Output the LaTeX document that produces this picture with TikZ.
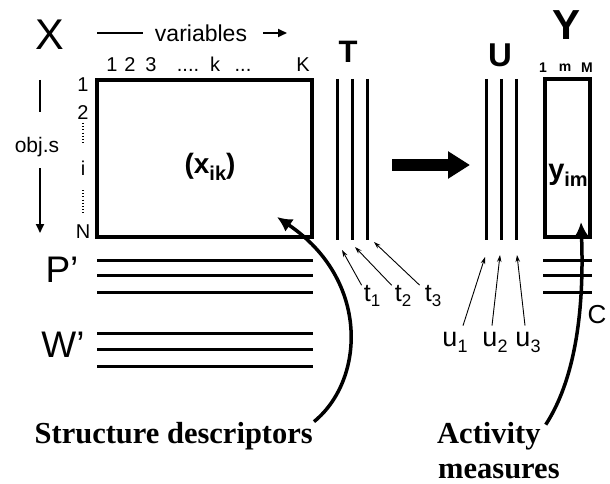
\documentclass[tikz,border=0pt]{standalone}
\usepackage{fontspec}
\setmainfont{Liberation Serif}
\setsansfont{Liberation Sans}
\usetikzlibrary{arrows.meta}
\newcommand{\fsz}[1]{\fontsize{#1}{#1}\selectfont}
\newcommand{\lsub}[3]{\raisebox{-#2}{\fsz{#1}#3}}
\begin{document}
\begin{tikzpicture}[x=1pt,y=-1pt,
  lbl/.style={inner sep=0pt, font=\sffamily\fsz{#1}},
  blbl/.style={inner sep=0pt, font=\sffamily\bfseries\fsz{#1}},
  serifl/.style={inner sep=0pt, font=\rmfamily\bfseries\fsz{30.5}},
  matbox/.style={draw, line width=3.5pt, inner sep=0pt},
  mline/.style={line width=3pt},
  dotline/.style={line width=1.4pt, dash pattern=on 1pt off 2.2pt},
  tarr/.style={line width=0.9pt, -{Stealth[length=7pt,width=4.5pt]}},
  carr/.style={line width=3.5pt, -{Latex[length=15pt,width=15pt]}},
  garr/.style={line width=1.8pt, -{Triangle[length=9pt,width=8pt]}}]
\useasboundingbox (0,0) rectangle (610,484);
% matrix boxes
\node[matbox, minimum width=215pt, minimum height=157pt] (xbox) at (204.5,158.5) {};
\node[matbox, minimum width=45pt, minimum height=158pt] (ybox) at (567.5,158) {};
% titles
\node[lbl=43] (X) at (50,35) {X};
\node[blbl=42] (Y) at (566,25) {Y};
\node[blbl=31] (T) at (348,52) {T};
\node[blbl=33] (U) at (500,55) {U};
% variables header
\node[lbl=23] (vars) at (201,33) {variables};
\coordinate (v0) at (97,33);
\coordinate (v1) at (263,33);
\coordinate (v2) at (287,33);
\draw[line width=1.8pt] (v0) -- (vars.west -| 143,0);
\draw[garr] (v1) -- (v2);
% column indices
\node[lbl=20, anchor=base] (c1) at (112,72) {1};
\node[lbl=20, anchor=base] (c2) at (130,72) {2};
\node[lbl=20, anchor=base] (c3) at (151,72) {3};
\node[lbl=20, anchor=base] (cd1) at (188,72) {....};
\node[lbl=20, anchor=base] (ck) at (215,72) {k};
\node[lbl=20, anchor=base] (cd2) at (243,72) {...};
\node[lbl=20, anchor=base] (cK) at (303,72) {K};
% row indices
\node[lbl=20] (r1) at (83,85) {1};
\node[lbl=20] (r2) at (83,113) {2};
\node[lbl=20] (ri) at (83,168) {i};
\node[lbl=20] (rN) at (83,232) {N};
\draw[dotline] (83,123) -- (83,143);
\draw[dotline] (83,190) -- (83,214);
% objects arrow
\node[lbl=21] (objs) at (37,147) {obj.s};
\coordinate (o0) at (40,80);
\coordinate (o1) at (40,112);
\coordinate (o2) at (40,168);
\coordinate (o3) at (40,233);
\draw[line width=1.8pt] (o0) -- (o1);
\draw[garr] (o2) -- (o3);
% matrix content
\node[blbl=28] (xik) at (210,167) {(x\lsub{20}{7pt}{ik})};
\node[blbl=29] (yim) at (568,175) {y\lsub{20}{7pt}{im}};
\node[blbl=14] (y1) at (543,68) {1};
\node[blbl=14] (ym) at (565,68) {m};
\node[blbl=14] (yM) at (587,68) {M};
% P' and W'
\node[lbl=37] (P) at (62,270) {P’};
\node[lbl=37] (W) at (63,345) {W’};
\foreach \yy in {260,275,292} \draw[mline] (97,\yy) -- (313,\yy);
\foreach \yy in {333,349,366} \draw[mline] (97,\yy) -- (313,\yy);
% C
\node[lbl=26] (C) at (597,315) {C};
\foreach \yy in {260,275,292} \draw[mline] (543,\yy) -- (592,\yy);
% T and U columns
\foreach \xx in {337,352,367} \draw[mline] (\xx,79) -- (\xx,240);
\foreach \xx in {486,501,516} \draw[mline] (\xx,79) -- (\xx,240);
\coordinate (tt1) at (342,250);
\coordinate (tt2) at (355,247);
\coordinate (tt3) at (374,242);
\coordinate (ut1) at (485,257);
\coordinate (ut2) at (500,255);
\coordinate (ut3) at (517,255);
% t labels
\node[lbl=25] (t1) at (372,296) {t\lsub{17}{5pt}{1}};
\node[lbl=25] (t2) at (403,296) {t\lsub{17}{5pt}{2}};
\node[lbl=25] (t3) at (433,296) {t\lsub{17}{5pt}{3}};
\draw[tarr] ([xshift=-2pt]t1.north west) -- (tt1);
\draw[tarr] ([xshift=-3pt]t2.north west) -- (tt2);
\draw[tarr] ([xshift=-5pt]t3.north west) -- (tt3);
% u labels
\node[lbl=27] (u1) at (455,342) {u\lsub{18}{6pt}{1}};
\node[lbl=27] (u2) at (495,342) {u\lsub{18}{6pt}{2}};
\node[lbl=27] (u3) at (528,342) {u\lsub{18}{6pt}{3}};
\draw[tarr] ([xshift=8pt,yshift=6pt]u1.north) -- (ut1);
\draw[tarr] ([xshift=-3pt,yshift=6pt]u2.north) -- (ut2);
\draw[tarr] ([xshift=-3pt,yshift=6pt]u3.north) -- (ut3);
% big arrow
\coordinate (b0) at (392,165);
\coordinate (b1) at (470,165);
\draw[line width=12pt, -{Triangle[length=22pt,width=26pt]}] (b0) -- (b1);
% captions
\node[serifl, anchor=base east] (sd) at (313,443) {Structure descriptors};
\node[serifl, anchor=base west] (act) at (437,443) {Activity};
\node[serifl, anchor=base west] (meas) at (438,478) {measures};
\coordinate (xtip) at (277,217);
\coordinate (ytip) at (581,222);
\draw[carr] ([xshift=1pt]sd.north east) .. controls (365,380) and (370,280) .. (xtip);
\draw[carr] ([xshift=5pt,yshift=-3pt]act.north east) .. controls (578,375) and (584,300) .. (ytip);
\end{tikzpicture}
\end{document}
